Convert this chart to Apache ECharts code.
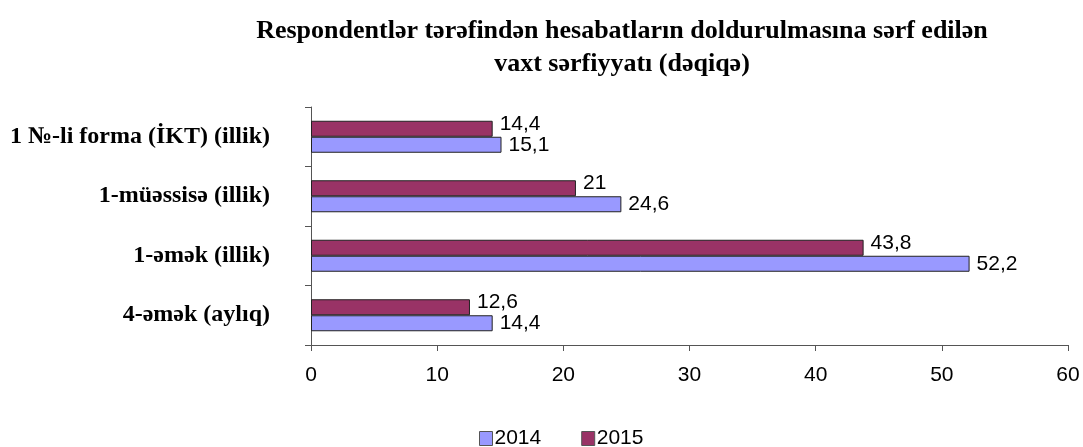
<!DOCTYPE html>
<html>
<head>
<meta charset="utf-8">
<script src="https://cdn.jsdelivr.net/npm/echarts@6/dist/echarts.min.js"></script>
<style>
html, body { margin: 0; padding: 0; background: #fff; }
#main { width: 1083px; height: 447px; }
</style>
</head>
<body>
<div id="main"></div>
<script>
var myChart = echarts.init(document.getElementById('main'));

// kateqoriyalar (aşağıdan yuxarı)
var categories = ['4-əmək (aylıq)', '1-əmək (illik)', '1-müəssisə (illik)', '1 №-li forma (İKT) (illik)'];
var years = ['2014', '2015'];
var data2014 = [14.4, 52.2, 24.6, 15.1];
var data2015 = [12.6, 43.8, 21, 14.4];

var color2014 = '#9999ff';
var color2015 = '#993366';

function commaLabel(p) {
	return String(p.value).replace('.', ',');
}

function makeLabel(dy) {
	return {
		show: true,
		position: 'right',
		distance: 7,
		offset: [0, dy],
		color: '#000',
		fontFamily: 'Liberation Sans, Arial',
		fontSize: 21,
		formatter: commaLabel
	};
}

var option = {
	backgroundColor: '#fff',
	animation: false,
	title: {
		text: 'Respondentlər tərəfindən hesabatların doldurulmasına sərf edilən\nvaxt sərfiyyatı (dəqiqə)',
		left: 617,
		textAlign: 'center',
		top: 10,
		textStyle: {
			fontFamily: 'Liberation Serif, Times New Roman',
			fontWeight: 'bold',
			fontSize: 26,
			lineHeight: 33,
			color: '#000'
		}
	},
	legend: {
		data: years,
		top: 423,
		left: 474,
		itemWidth: 13,
		itemHeight: 14,
		itemGap: 40,
		icon: 'rect',
		textStyle: {
			fontFamily: 'Liberation Sans, Arial',
			fontSize: 21,
			color: '#000',
			padding: [0, 0, 0, -3]
		},
		itemStyle: {
			borderColor: '#555',
			borderWidth: 1
		}
	},
	grid: {
		left: 311,
		right: 15,
		top: 107,
		height: 238,
		containLabel: false
	},
	xAxis: {
		type: 'value',
		min: 0,
		max: 60,
		interval: 10,
		axisLine: { show: true, lineStyle: { color: '#555', width: 1 } },
		axisTick: { show: true, length: 6, lineStyle: { color: '#555' } },
		splitLine: { show: false },
		axisLabel: {
			margin: 20,
			color: '#000',
			fontFamily: 'Liberation Sans, Arial',
			fontSize: 21
		}
	},
	yAxis: {
		type: 'category',
		data: categories,
		axisLine: { show: true, lineStyle: { color: '#555', width: 1 } },
		axisTick: { show: true, length: 6, lineStyle: { color: '#555' } },
		axisLabel: {
			margin: 41,
			color: '#000',
			fontFamily: 'Liberation Serif, Times New Roman',
			fontWeight: 'bold',
			fontSize: 24
		}
	},
	series: [{
			name: '2015',
			type: 'bar',
			data: data2015,
			barWidth: 16,
			barGap: '0%',
			itemStyle: {
				color: color2015,
				borderColor: '#222',
				borderWidth: 1
			},
			label: makeLabel(-5)
		},
		{
			name: '2014',
			type: 'bar',
			data: data2014,
			barWidth: 16,
			barGap: '0%',
			itemStyle: {
				color: color2014,
				borderColor: '#222',
				borderWidth: 1
			},
			label: makeLabel(0)
		}
	]
};

myChart.setOption(option);
</script>
</body>
</html>
